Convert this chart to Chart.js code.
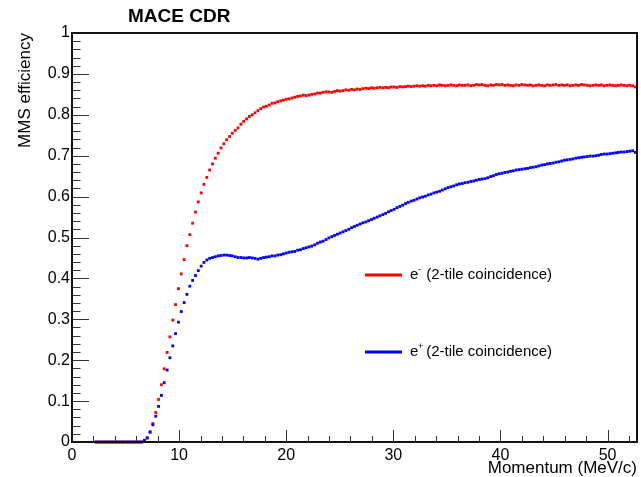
<!DOCTYPE html>
<html>
<head>
<title>MACE CDR - MMS efficiency</title>
<script src="https://cdn.jsdelivr.net/npm/chart.js"></script>
<style>
    body {margin: 0; background: #fff;}
    #wrap {width: 641px; height: 477px;}
</style>
</head>
<body>
<div id="wrap"><canvas id="myChart" width="641" height="477"></canvas></div>
<script>
    // momentum bin centres (MeV/c)
    var momentum = [
        2.25, 2.52, 2.78, 3.05, 3.31, 3.58, 3.84, 4.11, 4.37, 4.64,
        4.90, 5.17, 5.43, 5.70, 5.96, 6.23, 6.49, 6.76, 7.02, 7.29,
        7.55, 7.82, 8.08, 8.35, 8.61, 8.88, 9.14, 9.41, 9.67, 9.94,
        10.20, 10.47, 10.73, 11.00, 11.26, 11.53, 11.79, 12.06, 12.32, 12.59,
        12.85, 13.12, 13.38, 13.65, 13.91, 14.18, 14.44, 14.71, 14.97, 15.24,
        15.50, 15.77, 16.03, 16.30, 16.56, 16.83, 17.09, 17.36, 17.62, 17.89,
        18.15, 18.42, 18.68, 18.95, 19.21, 19.48, 19.74, 20.01, 20.27, 20.54,
        20.80, 21.07, 21.33, 21.60, 21.86, 22.13, 22.39, 22.66, 22.92, 23.19,
        23.45, 23.72, 23.98, 24.25, 24.51, 24.78, 25.04, 25.31, 25.57, 25.84,
        26.10, 26.37, 26.63, 26.90, 27.16, 27.43, 27.69, 27.96, 28.22, 28.49,
        28.75, 29.02, 29.28, 29.55, 29.81, 30.08, 30.34, 30.61, 30.87, 31.14,
        31.40, 31.67, 31.93, 32.20, 32.46, 32.73, 32.99, 33.26, 33.52, 33.79,
        34.05, 34.32, 34.58, 34.85, 35.11, 35.38, 35.64, 35.91, 36.17, 36.44,
        36.70, 36.97, 37.23, 37.50, 37.76, 38.03, 38.29, 38.56, 38.82, 39.09,
        39.35, 39.62, 39.88, 40.15, 40.41, 40.68, 40.94, 41.21, 41.47, 41.74,
        42.00, 42.27, 42.53, 42.80, 43.06, 43.33, 43.59, 43.86, 44.12, 44.39,
        44.65, 44.92, 45.18, 45.45, 45.71, 45.98, 46.24, 46.51, 46.77, 47.04,
        47.30, 47.57, 47.83, 48.10, 48.36, 48.63, 48.89, 49.16, 49.42, 49.69,
        49.95, 50.22, 50.48, 50.75, 51.01, 51.28, 51.54, 51.81, 52.07, 52.34,
        52.60
    ];

    // e- efficiency (red)
    var effElectron = [
        0, 0, 0, 0, 0, 0, 0, 0, 0, 0,
        0, 0, 0, 0, 0, 0, 0, 0.002, 0.010, 0.025,
        0.045, 0.072, 0.104, 0.140, 0.179, 0.219, 0.257, 0.298, 0.336, 0.375,
        0.411, 0.446, 0.480, 0.507, 0.535, 0.562, 0.587, 0.609, 0.630, 0.647,
        0.665, 0.680, 0.694, 0.706, 0.719, 0.729, 0.739, 0.747, 0.755, 0.762,
        0.768, 0.777, 0.784, 0.790, 0.796, 0.800, 0.805, 0.810, 0.815, 0.819,
        0.821, 0.824, 0.828, 0.829, 0.832, 0.834, 0.836, 0.838, 0.839, 0.841,
        0.843, 0.845, 0.846, 0.848, 0.847, 0.848, 0.850, 0.851, 0.853, 0.853,
        0.855, 0.856, 0.856, 0.855, 0.857, 0.859, 0.858, 0.859, 0.861, 0.860,
        0.862, 0.861, 0.863, 0.862, 0.864, 0.865, 0.864, 0.866, 0.865, 0.866,
        0.867, 0.866, 0.867, 0.866, 0.868, 0.868, 0.867, 0.869, 0.868, 0.869,
        0.870, 0.869, 0.870, 0.871, 0.870, 0.871, 0.870, 0.872, 0.871, 0.872,
        0.871, 0.873, 0.872, 0.871, 0.872, 0.873, 0.872, 0.871, 0.873, 0.872,
        0.872, 0.873, 0.871, 0.872, 0.874, 0.873, 0.874, 0.872, 0.871, 0.873,
        0.872, 0.874, 0.873, 0.874, 0.872, 0.873, 0.872, 0.871, 0.873, 0.872,
        0.874, 0.873, 0.872, 0.873, 0.871, 0.872, 0.873, 0.872, 0.871, 0.873,
        0.872, 0.873, 0.874, 0.872, 0.873, 0.872, 0.873, 0.871, 0.872, 0.873,
        0.872, 0.874, 0.873, 0.872, 0.871, 0.872, 0.873, 0.872, 0.873, 0.871,
        0.872, 0.873, 0.872, 0.871, 0.872, 0.873, 0.872, 0.871, 0.872, 0.871,
        0.868
    ];

    // e+ efficiency (blue)
    var effPositron = [
        0, 0, 0, 0, 0, 0, 0, 0, 0, 0,
        0, 0, 0, 0, 0, 0, 0, 0.004, 0.010, 0.024,
        0.042, 0.063, 0.087, 0.114, 0.145, 0.176, 0.206, 0.235, 0.265, 0.293,
        0.319, 0.341, 0.361, 0.381, 0.395, 0.407, 0.419, 0.430, 0.439, 0.445,
        0.449, 0.451, 0.453, 0.455, 0.456, 0.457, 0.457, 0.456, 0.455, 0.453,
        0.451, 0.451, 0.450, 0.450, 0.451, 0.450, 0.449, 0.447, 0.449, 0.451,
        0.452, 0.453, 0.455, 0.455, 0.457, 0.458, 0.460, 0.462, 0.464, 0.465,
        0.466, 0.469, 0.470, 0.473, 0.475, 0.477, 0.479, 0.482, 0.486, 0.489,
        0.491, 0.495, 0.499, 0.502, 0.505, 0.508, 0.511, 0.514, 0.517, 0.520,
        0.524, 0.527, 0.530, 0.533, 0.536, 0.538, 0.541, 0.544, 0.547, 0.550,
        0.553, 0.556, 0.559, 0.563, 0.566, 0.569, 0.573, 0.576, 0.579, 0.583,
        0.586, 0.589, 0.591, 0.594, 0.597, 0.599, 0.601, 0.604, 0.606, 0.609,
        0.611, 0.613, 0.616, 0.619, 0.622, 0.624, 0.626, 0.629, 0.631, 0.632,
        0.634, 0.635, 0.637, 0.638, 0.640, 0.642, 0.643, 0.644, 0.646, 0.649,
        0.651, 0.654, 0.656, 0.657, 0.659, 0.660, 0.662, 0.663, 0.665, 0.666,
        0.667, 0.668, 0.669, 0.671, 0.672, 0.673, 0.675, 0.677, 0.678, 0.680,
        0.681, 0.682, 0.684, 0.685, 0.687, 0.689, 0.690, 0.691, 0.692, 0.694,
        0.695, 0.696, 0.697, 0.698, 0.699, 0.699, 0.700, 0.701, 0.703, 0.704,
        0.704, 0.705, 0.706, 0.707, 0.708, 0.709, 0.709, 0.710, 0.711, 0.712,
        0.708
    ];

    var xTickValues = [0, 10, 20, 30, 40, 50];
    var yTickValues = [0, 0.1, 0.2, 0.3, 0.4, 0.5, 0.6, 0.7, 0.8, 0.9, 1];
    var legendSup = ['-', '+'];
    var legendText = '(2-tile coincidence)';

    var fontFam = '"Liberation Sans", Arial, sans-serif';

    function toPoints(ys) {
        return momentum.map(function(x, i) { return {x: x, y: ys[i]}; });
    }

    // ROOT style frame with ticks pointing inwards
    var frameTicks = {
        id: 'frameTicks',
        afterDatasetsDraw: function(chart) {
            var ctx = chart.ctx, a = chart.chartArea;
            var xs = chart.scales.x, ys = chart.scales.y;
            ctx.save();
            ctx.strokeStyle = '#333';
            ctx.lineWidth = 1;
            ctx.beginPath();
            for (var v = 0; v <= xs.max; v += 2) {
                var px = Math.round(xs.getPixelForValue(v)) + 0.5;
                var len = (v % 10 === 0) ? 12 : 6;
                ctx.moveTo(px, a.bottom);
                ctx.lineTo(px, a.bottom - len);
            }
            for (var k = 0; k <= 50; k++) {
                var py = Math.round(ys.getPixelForValue(k * 0.02)) + 0.5;
                var len2 = (k % 5 === 0) ? 17 : 8.5;
                ctx.moveTo(a.left, py);
                ctx.lineTo(a.left + len2, py);
            }
            ctx.stroke();
            ctx.strokeStyle = '#111';
            ctx.lineWidth = 2;
            ctx.strokeRect(a.left, a.top, a.right - a.left, a.bottom - a.top);
            ctx.restore();
        },
        afterDraw: function(chart) {
            var ctx = chart.ctx;
            ctx.save();
            // title
            ctx.fillStyle = '#000';
            ctx.font = 'bold 19px ' + fontFam;
            ctx.textAlign = 'left';
            ctx.textBaseline = 'middle';
            ctx.fillText('MACE CDR', 128, 17);
            // legend
            var rows = [275, 352];
            chart.data.datasets.forEach(function(ds, i) {
                var y = rows[i];
                ctx.strokeStyle = ds.borderColor;
                ctx.lineWidth = 3;
                ctx.beginPath();
                ctx.moveTo(365, y);
                ctx.lineTo(402, y);
                ctx.stroke();
                ctx.fillStyle = '#000';
                ctx.font = '15px ' + fontFam;
                ctx.fillText('e', 410, y);
                ctx.font = '9px ' + fontFam;
                ctx.fillText(legendSup[i], 418, y - 5);
                ctx.font = '15px ' + fontFam;
                ctx.fillText(' ' + legendText, 422, y);
            });
            ctx.restore();
        }
    };

    var ctx = document.getElementById('myChart').getContext('2d');
    new Chart(ctx, {
        type: 'scatter',
        data: {
            datasets: [
                {
                    label: 'e- ' + legendText,
                    data: toPoints(effElectron),
                    backgroundColor: 'rgb(255, 0, 0)',
                    borderColor: 'rgb(255, 0, 0)',
                    pointStyle: 'rect',
                    pointRadius: 2,
                    pointBorderWidth: 0,
                    clip: false,
                    order: 1
                },
                {
                    label: 'e+ ' + legendText,
                    data: toPoints(effPositron),
                    backgroundColor: 'rgb(0, 0, 255)',
                    borderColor: 'rgb(0, 0, 255)',
                    pointStyle: 'rect',
                    pointRadius: 2,
                    pointBorderWidth: 0,
                    clip: false,
                    order: 0
                }
            ]
        },
        options: {
            responsive: false,
            animation: false,
            devicePixelRatio: 1,
            layout: {padding: {top: 33, right: 1, left: 0, bottom: 0}},
            plugins: {
                legend: {display: false},
                tooltip: {enabled: false}
            },
            scales: {
                x: {
                    type: 'linear',
                    min: 0,
                    max: 52.75,
                    afterBuildTicks: function(scale) {
                        scale.ticks = xTickValues.map(function(v) { return {value: v}; });
                    },
                    afterFit: function(scale) { scale.height = 35; },
                    grid: {display: false, drawTicks: false},
                    border: {display: false},
                    ticks: {
                        color: '#000',
                        padding: 4,
                        maxRotation: 0,
                        autoSkip: false,
                        font: {family: fontFam, size: 16}
                    },
                    title: {
                        display: true,
                        text: 'Momentum (MeV/c)',
                        align: 'end',
                        color: '#000',
                        padding: 0,
                        font: {family: fontFam, size: 17, lineHeight: 1}
                    }
                },
                y: {
                    min: 0,
                    max: 1,
                    afterBuildTicks: function(scale) {
                        scale.ticks = yTickValues.map(function(v) { return {value: v}; });
                    },
                    afterFit: function(scale) { scale.width = 72; },
                    grid: {display: false, drawTicks: false},
                    border: {display: false},
                    ticks: {
                        color: '#000',
                        padding: 2,
                        autoSkip: false,
                        font: {family: fontFam, size: 16},
                        callback: function(v) { return String(Math.round(v * 10) / 10); }
                    },
                    title: {
                        display: true,
                        text: 'MMS efficiency',
                        align: 'end',
                        color: '#000',
                        padding: {top: 15, bottom: 0},
                        font: {family: fontFam, size: 17, lineHeight: 1.2}
                    }
                }
            }
        },
        plugins: [frameTicks]
    });
</script>
</body>
</html>
